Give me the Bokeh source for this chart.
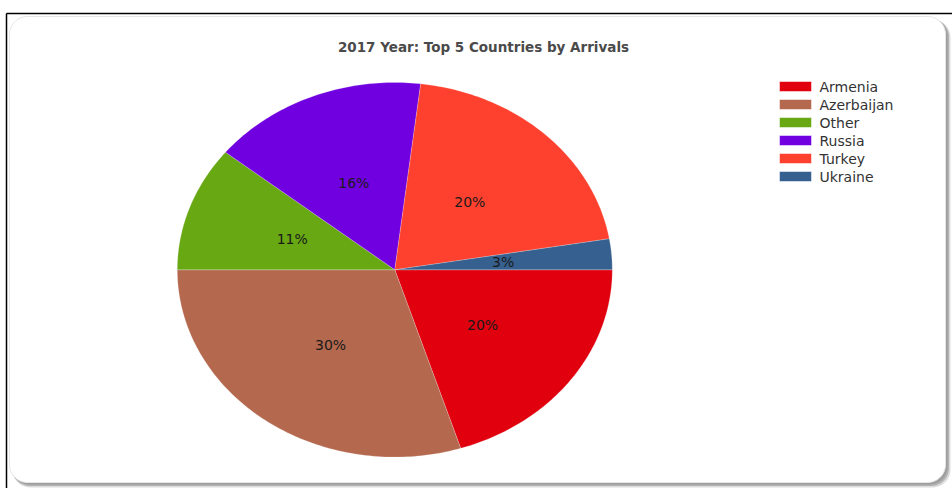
import numpy as np
from bokeh.plotting import figure
from bokeh.models import Range1d
from bokeh.core.properties import value
from bokeh.embed import file_html
from bokeh.resources import INLINE

# ---- data ----
countries = ["Armenia", "Azerbaijan", "Other", "Russia", "Turkey", "Ukraine"]
shares = [20.1, 29.9, 10.8, 16.1, 20.45, 2.65]
colors = ["#E0000E", "#B4684E", "#67A813", "#7100E1", "#FE412F", "#36608F"]
title_text = "2017 Year: Top 5 Countries by Arrivals"

W, H = 952, 488
p = figure(width=W, height=H, output_backend="svg", toolbar_location=None,
           x_range=Range1d(0, W), y_range=Range1d(H, 0), min_border=0,
           background_fill_color="white", border_fill_color="white")
p.axis.visible = False
p.grid.visible = False
p.outline_line_color = None


def rounded(x0, y0, x1, y1, r, n=12):
    xs, ys = [], []
    corners = [(x1 - r, y0 + r, -90, 0), (x1 - r, y1 - r, 0, 90),
               (x0 + r, y1 - r, 90, 180), (x0 + r, y0 + r, 180, 270)]
    for cx, cy, a0, a1 in corners:
        t = np.radians(np.linspace(a0, a1, n))
        xs.extend(cx + r * np.cos(t))
        ys.extend(cy + r * np.sin(t))
    return xs, ys

# outer black frame lines
p.segment(x0=[6, 6], y0=[13, 13], x1=[W, 6], y1=[13, H], line_color="black", line_width=1.5)

# shadow of the rounded panel
for off, col, a in [(5, "#c4c4c4", 0.6), (3.5, "#a0a0a0", 0.7), (2, "#8a8a8a", 0.5)]:
    sx, sy = rounded(10 + off * 0.4, 17 + off * 0.4, 945 + off, 482 + off, 18)
    p.patch(sx, sy, fill_color=col, fill_alpha=a, line_color=None)
bx, by = rounded(9, 16, 945, 482, 18)
p.patch(bx, by, fill_color="white", line_color="#e6e6e6", line_width=1)

# title
p.text(x=[483], y=[46], text=[title_text], text_align="center", text_baseline="middle",
       text_font=value("DejaVu Sans"), text_font_style="bold", text_font_size="13.5px",
       text_color="#4a4a4a")

# pie (elliptical)
cx, cy, rx, ry = 394.3, 269.3, 217.5, 187.3
vals = np.array(shares, dtype=float)
frac = vals / vals.sum()
ends = np.cumsum(frac) * 2 * np.pi
starts = ends - frac * 2 * np.pi
for s, e, c in zip(starts, ends, colors):
    t = np.linspace(s, e, max(3, int((e - s) * 60)))
    xs = np.concatenate([[cx], cx + rx * np.cos(t), [cx]])
    ys = np.concatenate([[cy], cy + ry * np.sin(t), [cy]])
    p.patch(xs, ys, fill_color=c, line_color="white", line_alpha=0.35, line_width=0.6)

mids = (starts + ends) / 2
lx = cx + 0.5 * rx * np.cos(mids)
ly = cy + 0.5 * ry * np.sin(mids)
labels = [f"{round(v)}%" for v in vals / vals.sum() * 100]
p.text(x=lx, y=ly, text=labels, text_align="center", text_baseline="middle",
       text_font=value("DejaVu Sans"), text_font_size="14px", text_color="#1a1a1a")

# legend
ly0 = 86
rows = np.arange(len(countries))
p.rect(x=[795] * len(countries), y=ly0 + 18 * rows, width=32, height=10,
       fill_color=colors, line_color="white", line_alpha=0.5)
p.text(x=[819] * len(countries), y=ly0 + 18 * rows, text=countries,
       text_align="left", text_baseline="middle", text_font=value("DejaVu Sans"),
       text_font_size="14px", text_color="#333333")

open("out.html", "w").write(file_html(p, INLINE))
